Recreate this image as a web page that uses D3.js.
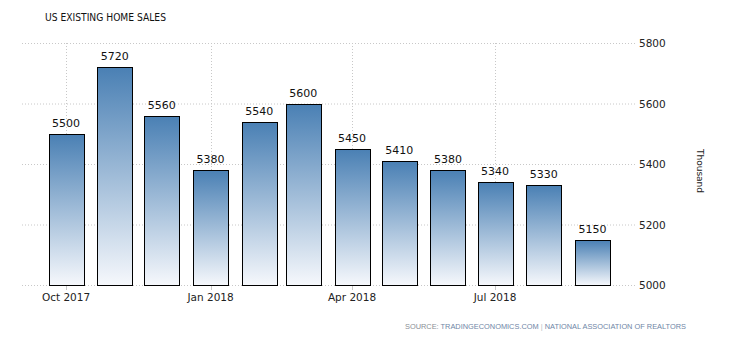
<!DOCTYPE html>
<html lang="en">
<head>
  <meta charset="utf-8">
  <title>US Existing Home Sales</title>
  <script src="https://d3js.org/d3.v7.min.js"></script>
  <style>
    body { margin: 0; background: #fff; }
    text { font-family: "DejaVu Sans", Tahoma, sans-serif; }
    .grid line { stroke: #c8c8c8; stroke-dasharray: 1,2; }
  </style>
</head>
<body>
<script>
// monthly values, thousand units
var months = ["2017-10", "2017-11", "2017-12", "2018-01", "2018-02", "2018-03",
              "2018-04", "2018-05", "2018-06", "2018-07", "2018-08", "2018-09"];
var sales = [5500, 5720, 5560, 5380, 5540, 5600, 5450, 5410, 5380, 5340, 5330, 5150];
var yTicks = [5000, 5200, 5400, 5600, 5800];
var xTickMonths = ["2017-10", "2018-01", "2018-04", "2018-07"];

var W = 730, H = 340;
var plot = {left: 22, right: 637, top: 43, bottom: 285};
var parse = d3.timeParse("%Y-%m");

var svg = d3.select("body").append("svg")
  .attr("width", W).attr("height", H);

// per-bar gradient, blue on top fading to white
var grad = svg.append("defs").append("linearGradient")
  .attr("id", "barGrad")
  .attr("x1", 0).attr("y1", 0).attr("x2", 0).attr("y2", 1);
grad.append("stop").attr("offset", "0%").attr("stop-color", "#4a80b4");
grad.append("stop").attr("offset", "100%").attr("stop-color", "#f6f8fc");

var x = d3.scaleTime()
  .domain([parse("2017-10"), parse("2018-09")])
  .range([66, 592.5]);
var y = d3.scaleLinear().domain([5000, 5800]).range([plot.bottom, plot.top]);

// horizontal grid
svg.append("g").attr("class", "grid")
  .selectAll("line").data(yTicks).enter().append("line")
  .attr("x1", plot.left).attr("x2", plot.right)
  .attr("y1", function(d) { return y(d) + 0.5; })
  .attr("y2", function(d) { return y(d) + 0.5; });

// vertical grid at quarter ticks
svg.append("g").attr("class", "grid")
  .selectAll("line").data(xTickMonths).enter().append("line")
  .attr("x1", function(d) { return Math.round(x(parse(d))) + 0.5; })
  .attr("x2", function(d) { return Math.round(x(parse(d))) + 0.5; })
  .attr("y1", plot.top).attr("y2", plot.bottom);

// x tick marks
svg.append("g").selectAll("line").data(xTickMonths).enter().append("line")
  .attr("x1", function(d) { return Math.round(x(parse(d))) + 0.5; })
  .attr("x2", function(d) { return Math.round(x(parse(d))) + 0.5; })
  .attr("y1", plot.bottom).attr("y2", plot.bottom + 5)
  .attr("stroke", "#c8c8c8");

// bars
var barW = 35;
svg.append("g").selectAll("rect").data(sales).enter().append("rect")
  .attr("x", function(d, i) { return Math.round(x(parse(months[i])) - barW / 2) + 0.5; })
  .attr("y", function(d) { return Math.round(y(d)) + 0.5; })
  .attr("width", barW)
  .attr("height", function(d) { return Math.round(y(5000)) - Math.round(y(d)); })
  .attr("fill", "url(#barGrad)")
  .attr("stroke", "#000")
  .attr("stroke-width", 1);

// value labels
svg.append("g").selectAll("text").data(sales).enter().append("text")
  .attr("x", function(d, i) { return x(parse(months[i])); })
  .attr("y", function(d) { return y(d) - 7; })
  .attr("text-anchor", "middle")
  .attr("font-size", 11)
  .attr("fill", "#111")
  .text(function(d) { return d; });

// x labels
svg.append("g").selectAll("text").data(xTickMonths).enter().append("text")
  .attr("x", function(d) { return x(parse(d)); })
  .attr("y", plot.bottom + 16)
  .attr("text-anchor", "middle")
  .attr("font-size", 10.5)
  .attr("fill", "#222")
  .text(function(d) { return d3.timeFormat("%b %Y")(parse(d)); });

// y labels
svg.append("g").selectAll("text").data(yTicks).enter().append("text")
  .attr("x", 639)
  .attr("y", function(d) { return y(d) + 4; })
  .attr("font-size", 10.5)
  .attr("fill", "#222")
  .text(function(d) { return d; });

// unit label
svg.append("text")
  .attr("transform", "translate(697,171) rotate(90)")
  .attr("text-anchor", "middle")
  .attr("font-size", 9)
  .attr("fill", "#222")
  .text("Thousand");

// title
svg.append("text")
  .attr("x", 45).attr("y", 21)
  .attr("font-size", 11)
  .attr("textLength", 121)
  .attr("lengthAdjust", "spacingAndGlyphs")
  .attr("fill", "#111")
  .text("US EXISTING HOME SALES");

// source line
var src = svg.append("text")
  .attr("x", 686).attr("y", 329)
  .attr("text-anchor", "end")
  .style("font-family", "'Liberation Sans', Arial, sans-serif")
  .attr("font-size", 7.4);
src.append("tspan").attr("fill", "#8a8f96").text("SOURCE:  ");
src.append("tspan").attr("fill", "#6f86a6").text("TRADINGECONOMICS.COM");
src.append("tspan").attr("fill", "#b8bec6").text(" | ");
src.append("tspan").attr("fill", "#6f86a6").text("NATIONAL ASSOCIATION OF REALTORS");
</script>
</body>
</html>
